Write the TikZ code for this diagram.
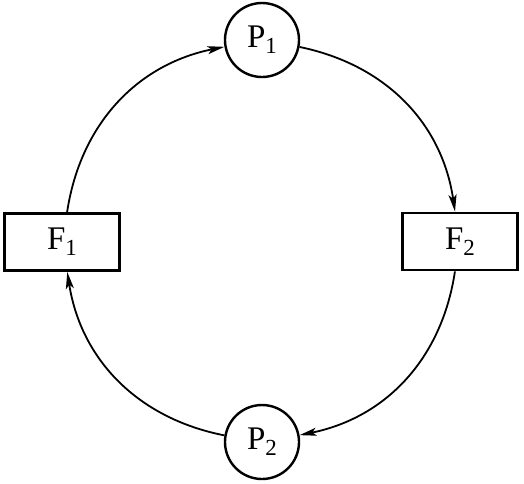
\documentclass[tikz,border=0pt]{standalone}
\usepackage{fontspec}
\setmainfont{Liberation Serif}
\usetikzlibrary{arrows.meta}
\newcommand{\lbl}[2]{{\fontsize{33}{38}\selectfont #1\raisebox{-6pt}{\fontsize{23}{26}\selectfont #2}}}
\tikzset{
  pnode/.style={circle, draw, line width=2.4pt, minimum size=74pt, inner sep=0pt},
  fnode/.style={rectangle, draw, line width=2.8pt, minimum width=115pt, minimum height=57pt, inner sep=0pt},
  flow/.style={line width=1.8pt, -{Stealth[length=17pt,width=8pt,inset=4pt]}, bend left=35}
}
\begin{document}
\begin{tikzpicture}[x=1pt,y=-1pt]
\useasboundingbox (0,0) rectangle (524,483);
\node[pnode] (P1) at (262,40) {\lbl{P}{1}};
\node[pnode] (P2) at (262,442) {\lbl{P}{2}};
\node[fnode] (F1) at (62,242) {\lbl{F}{1}};
\node[fnode] (F2) at (460,241.5) {\lbl{F}{2}};
\draw[flow] (F1) to (P1);
\draw[flow] (P1) to (F2);
\draw[flow] (F2) to (P2);
\draw[flow] (P2) to (F1);
\end{tikzpicture}
\end{document}
